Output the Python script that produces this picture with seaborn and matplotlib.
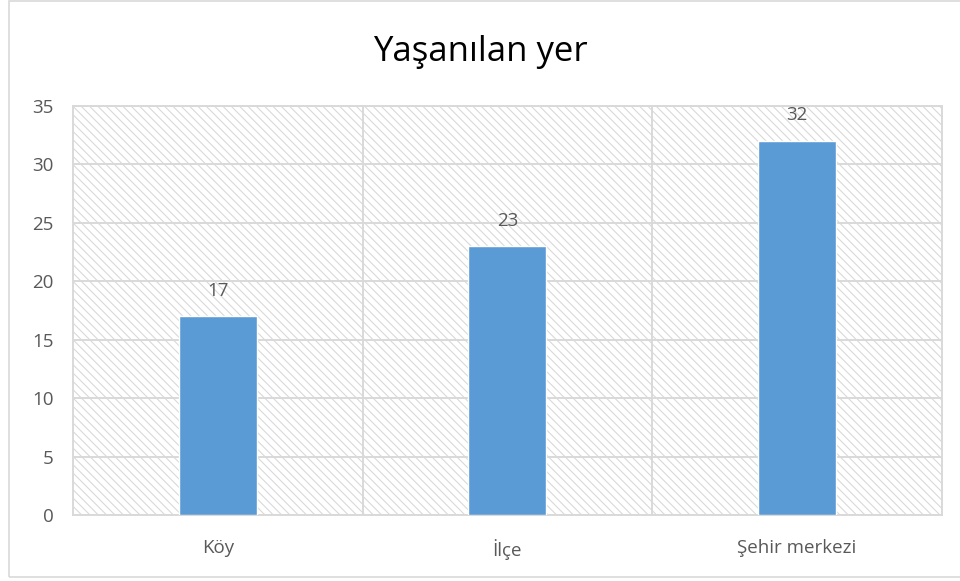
import matplotlib
matplotlib.use("Agg")
import matplotlib.pyplot as plt
import seaborn as sns
import pandas as pd
from matplotlib.patches import Rectangle

# chart data
categories = ["Köy", "İlçe", "Şehir merkezi"]
values = [17, 23, 32]
yticks = [0, 5, 10, 15, 20, 25, 30, 35]

sns.set_theme(style="white")
plt.rcParams["font.family"] = ["Open Sans", "DejaVu Sans"]
plt.rcParams["hatch.color"] = "#dcdcdc"
plt.rcParams["hatch.linewidth"] = 0.8

grey = "#d9d9d9"
text_col = "#595959"

df = pd.DataFrame({"yer": categories, "sayi": values})

fig = plt.figure(figsize=(9.6, 5.81), dpi=100)
ax = fig.add_axes([0.076, 0.1136, 0.905, 0.704])

# outer chart border
fig.patches.append(Rectangle((9 / 960, 4 / 581), 1.0, 576 / 581, transform=fig.transFigure,
                             fill=False, edgecolor=grey, linewidth=1.2))

# hatched plot background
ax.add_patch(Rectangle((0, 0), 1, 1, transform=ax.transAxes, facecolor="white",
                       edgecolor=grey, hatch="\\\\\\\\", linewidth=0, zorder=0))

sns.barplot(data=df, x="yer", y="sayi", color="#5b9bd5", width=0.27, saturation=1,
            ax=ax, zorder=3)

ax.set_ylim(0, 35)
ax.set_xlim(-0.5, 2.5)
ax.set_yticks(yticks)
ax.grid(axis="y", color=grey, linewidth=1.4, zorder=1)
for x in [0.5, 1.5]:
    ax.axvline(x, color=grey, linewidth=1.4, zorder=1)
ax.set_axisbelow(True)

for name, sp in ax.spines.items():
    sp.set_color(grey)
    sp.set_linewidth(1.4)

ax.bar_label(ax.containers[0], padding=12, fontsize=13.5, color=text_col)
ax.tick_params(axis="both", length=0, labelsize=13.5, labelcolor=text_col)
ax.tick_params(axis="y", pad=14)
ax.tick_params(axis="x", pad=17)
ax.set_xlabel("")
ax.set_ylabel("")

fig.text(0.5, 0.91, "Yaşanılan yer", ha="center", va="center", fontsize=25, color="black")

fig.savefig("out.png", dpi=100)
